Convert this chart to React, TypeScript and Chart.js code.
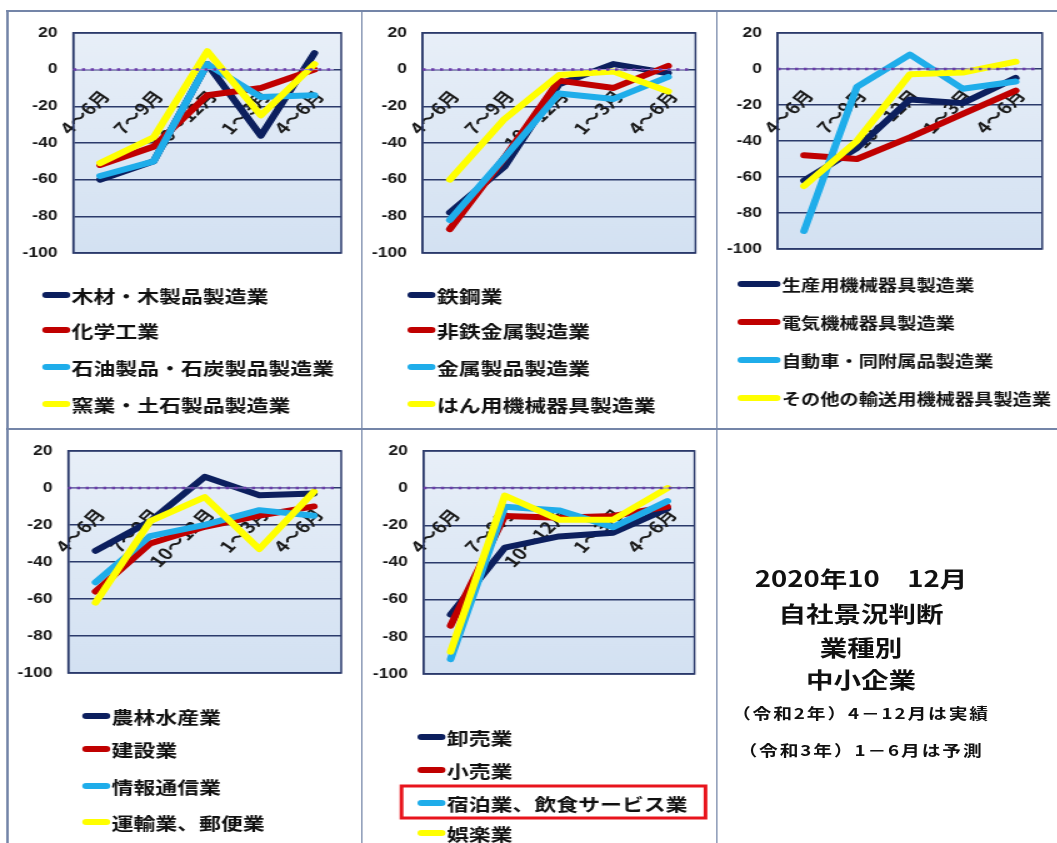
import React, { useEffect, useRef } from 'react';
import { Chart, registerables } from 'chart.js';

Chart.register(...registerables);

// The reference picture is stretched horizontally; everything is laid out
// unstretched and the whole page is scaled back with scaleX(S).
const S = 1.25;

const QUARTERS = ['4～6月', '7～9月', '10～12月', '1～3月', '4～6月'];
const Y_MIN = -100;
const Y_MAX = 20;
const Y_STEP = 20;

const COLORS = ['#0c1f5e', '#c00000', '#1fadea', '#ffff00'];

// Panel 1
const P1_LABELS = ['木材・木製品製造業', '化学工業', '石油製品・石炭製品製造業', '窯業・土石製品製造業'];
const P1_WOOD = [-60, -50, 3, -36, 9];
const P1_CHEMICAL = [-52, -42, -14, -10, 0];
const P1_PETROLEUM = [-58, -50, 3, -15, -14];
const P1_CERAMIC = [-51, -37, 10, -25, 3];

// Panel 2
const P2_LABELS = ['鉄鋼業', '非鉄金属製造業', '金属製品製造業', 'はん用機械器具製造業'];
const P2_IRON = [-78, -53, -8, 3, -2];
const P2_NONFERROUS = [-87, -48, -6, -10, 2];
const P2_METAL = [-82, -48, -13, -16, -4];
const P2_GENERAL = [-60, -27, -3, -1, -12];

// Panel 3
const P3_LABELS = ['生産用機械器具製造業', '電気機械器具製造業', '自動車・同附属品製造業', 'その他の輸送用機械器具製造業'];
const P3_PRODUCTION = [-62, -44, -17, -19, -5];
const P3_ELECTRIC = [-48, -50, -38, -25, -12];
const P3_AUTO = [-90, -10, 8, -11, -7];
const P3_OTHER_TRANSPORT = [-65, -40, -3, -2, 4];

// Panel 4
const P4_LABELS = ['農林水産業', '建設業', '情報通信業', '運輸業、郵便業'];
const P4_AGRI = [-34, -18, 6, -4, -3];
const P4_CONSTRUCTION = [-56, -30, -21, -15, -10];
const P4_INFO = [-51, -26, -20, -12, -15];
const P4_TRANSPORT = [-62, -18, -5, -33, -2];

// Panel 5
const P5_LABELS = ['卸売業', '小売業', '宿泊業、飲食サービス業', '娯楽業'];
const P5_WHOLESALE = [-68, -32, -26, -24, -11];
const P5_RETAIL = [-74, -15, -16, -15, -10];
const P5_HOTEL = [-92, -10, -12, -21, -7];
const P5_AMUSEMENT = [-88, -4, -17, -17, 0];

const TITLE_LINES = ['2020年10\u300012月', '自社景況判断', '業種別', '中小企業'];
const NOTE_LINES = ['（令和2年）4－12月は実績', '（令和3年）1－6月は予測'];

const GRID = '#2b3a6b';
const FRAME = '#7485a8';
const CJK = "'Noto Sans CJK JP', sans-serif";

type PanelCfg = {
  box: number[];
  plot: number[];
  legendX: number[];
  legendY: number[];
  legendFont: number;
  labels: string[];
  series: number[][];
  highlight?: number[];
};

// positions are in page (stretched) coordinates
const PANELS: PanelCfg[] = [
  { box: [8.5, 12, 361, 428], plot: [73, 31, 341, 253], legendX: [42, 70], legendY: [295, 330, 367, 404], legendFont: 17.5,
    labels: P1_LABELS, series: [P1_WOOD, P1_CHEMICAL, P1_PETROLEUM, P1_CERAMIC] },
  { box: [363, 12, 716, 428], plot: [423, 31, 696, 253], legendX: [408, 436], legendY: [295, 330, 367, 404], legendFont: 17.5,
    labels: P2_LABELS, series: [P2_IRON, P2_NONFERROUS, P2_METAL, P2_GENERAL] },
  { box: [718, 12, 1057, 428], plot: [778, 31, 1048, 249], legendX: [738, 781], legendY: [284, 322, 360, 398], legendFont: 15.4,
    labels: P3_LABELS, series: [P3_PRODUCTION, P3_ELECTRIC, P3_AUTO, P3_OTHER_TRANSPORT] },
  { box: [8.5, 430, 361, 843], plot: [68, 450, 341, 673], legendX: [82, 110], legendY: [716, 749, 786, 822], legendFont: 17.5,
    labels: P4_LABELS, series: [P4_AGRI, P4_CONSTRUCTION, P4_INFO, P4_TRANSPORT] },
  { box: [363, 430, 716, 843], plot: [424, 450, 695, 674], legendX: [418, 446], legendY: [737, 770, 803, 833], legendFont: 17.5,
    labels: P5_LABELS, series: [P5_WHOLESALE, P5_RETAIL, P5_HOTEL, P5_AMUSEMENT], highlight: [402, 786, 706, 818] },
];

function PanelChart({ p }: { p: PanelCfg }) {
  const ref = useRef<HTMLCanvasElement>(null);
  const [x0, y0, x1, y1] = p.box;
  const W = Math.round((x1 - x0) / S);
  const H = Math.round(y1 - y0);
  const X = (x: number) => (x - x0) / S;
  const Y = (y: number) => y - y0;

  useEffect(() => {
    const [px0, py0, px1, py1] = p.plot;
    const deco = {
      id: 'deco',
      beforeDraw(chart: any) {
        const { ctx, chartArea: a } = chart;
        const g = ctx.createLinearGradient(0, a.top, 0, a.bottom);
        g.addColorStop(0, '#e8eff8');
        g.addColorStop(1, '#d3e1f2');
        ctx.save();
        ctx.fillStyle = g;
        ctx.fillRect(a.left, a.top, a.right - a.left, a.bottom - a.top);
        ctx.restore();
      },
      beforeDatasetsDraw(chart: any) {
        const { ctx, chartArea: a } = chart;
        ctx.save();
        ctx.strokeStyle = GRID;
        ctx.lineWidth = 1.5;
        ctx.strokeRect(a.left, a.top, a.right - a.left, a.bottom - a.top);
        ctx.restore();
      },
      afterDatasetsDraw(chart: any) {
        const { ctx, chartArea: a } = chart;
        const y = chart.scales.y.getPixelForValue(0);
        ctx.save();
        ctx.strokeStyle = '#a58fd6';
        ctx.lineWidth = 1;
        ctx.beginPath();
        ctx.moveTo(a.left, y);
        ctx.lineTo(a.right - 6, y);
        ctx.stroke();
        ctx.strokeStyle = '#6a3ea8';
        ctx.lineWidth = 2.5;
        ctx.setLineDash([2.5, 4.5]);
        ctx.beginPath();
        ctx.moveTo(a.left, y);
        ctx.lineTo(a.right - 6, y);
        ctx.stroke();
        ctx.restore();
      },
      afterDraw(chart: any) {
        const { ctx } = chart;
        chart.data.datasets.forEach((ds: any, i: number) => {
          const y = Y(p.legendY[i]);
          ctx.save();
          ctx.strokeStyle = ds.borderColor;
          ctx.lineWidth = 6;
          ctx.lineCap = 'round';
          ctx.beginPath();
          ctx.moveTo(X(p.legendX[0]) + 3, y);
          ctx.lineTo(X(p.legendX[1]) - 3, y);
          ctx.stroke();
          ctx.fillStyle = '#111';
          ctx.font = `bold ${p.legendFont}px ${CJK}`;
          ctx.textBaseline = 'middle';
          ctx.textAlign = 'left';
          ctx.fillText(ds.label, X(p.legendX[1]) + 1, y + 1);
          ctx.restore();
        });
        if (p.highlight) {
          const [hx0, hy0, hx1, hy1] = p.highlight;
          ctx.save();
          ctx.strokeStyle = '#e8141c';
          ctx.lineWidth = 3;
          ctx.strokeRect(X(hx0), Y(hy0), X(hx1) - X(hx0), hy1 - hy0);
          ctx.restore();
        }
      },
    };

    const chart = new Chart(ref.current as HTMLCanvasElement, {
      type: 'line',
      data: {
        labels: QUARTERS,
        datasets: p.series.map((data, i) => ({
          label: p.labels[i],
          data,
          borderColor: COLORS[i],
          backgroundColor: COLORS[i],
          borderWidth: 6,
          pointRadius: 0,
          pointHoverRadius: 0,
          tension: 0,
          fill: false,
          order: 3 - i,
          borderJoinStyle: 'round',
          borderCapStyle: 'round',
        })),
      },
      options: {
        responsive: false,
        animation: false,
        events: [],
        layout: {
          padding: { left: 0, top: Y(py0), right: W - X(px1), bottom: H - Y(py1) },
        },
        scales: {
          y: {
            min: Y_MIN,
            max: Y_MAX,
            ticks: {
              stepSize: Y_STEP,
              padding: 12.5,
              color: '#1a1a1a',
              font: { family: "'Liberation Sans', sans-serif", size: 14, weight: 'bold' },
            },
            grid: { color: GRID, lineWidth: 1.5, drawTicks: false },
            border: { display: true, color: GRID, width: 1.5 },
            afterFit: (scale: any) => {
              scale.width = X(px0);
            },
          },
          x: {
            type: 'category',
            position: { y: 0 },
            offset: true,
            grid: { display: false, drawTicks: false },
            border: { display: false },
            ticks: {
              autoSkip: false,
              minRotation: 50,
              maxRotation: 50,
              padding: 17,
              labelOffset: 4,
              color: '#1a1a1a',
              font: { family: CJK, size: 16, weight: 'bold' },
            },
          },
        } as any,
        plugins: {
          legend: { display: false },
          tooltip: { enabled: false },
        },
      },
      plugins: [deco],
    } as any);
    return () => chart.destroy();
  }, []);

  return (
    <canvas
      ref={ref}
      width={W}
      height={H}
      style={{ position: 'absolute', left: x0 / S, top: y0, width: W, height: H }}
    />
  );
}

function Line({ x, y, w, h }: { x: number; y: number; w: number; h: number }) {
  return <div style={{ position: 'absolute', left: x / S, top: y, width: w / S, height: h, background: FRAME }} />;
}

export default function App() {
  const titleCenters = [577, 612, 646, 678];
  const noteCenters = [713, 750];
  const cx = 861 / S;
  return (
    <div
      style={{
        position: 'absolute',
        left: 0,
        top: 0,
        width: 1057 / S,
        height: 843,
        transform: `scaleX(${S})`,
        transformOrigin: '0 0',
        background: '#ffffff',
        overflow: 'hidden',
      }}
    >
      {PANELS.map((p, i) => (
        <PanelChart key={i} p={p} />
      ))}
      <Line x={6.5} y={10} w={1051} h={2} />
      <Line x={6.5} y={428} w={1051} h={2} />
      <Line x={6.5} y={10} w={2} h={833} />
      <Line x={361} y={10} w={2} h={833} />
      <Line x={716} y={10} w={2} h={833} />
      {TITLE_LINES.map((t, i) => (
        <div
          key={'t' + i}
          style={{
            position: 'absolute',
            left: cx - 150,
            width: 300,
            top: titleCenters[i] - 16,
            height: 32,
            lineHeight: '32px',
            textAlign: 'center',
            fontFamily: CJK,
            fontWeight: 700,
            fontSize: 22,
            color: '#111',
            whiteSpace: 'pre',
          }}
        >
          {t}
        </div>
      ))}
      {NOTE_LINES.map((t, i) => (
        <div
          key={'n' + i}
          style={{
            position: 'absolute',
            left: cx - 150,
            width: 300,
            top: noteCenters[i] - 12,
            height: 24,
            lineHeight: '24px',
            textAlign: 'center',
            fontFamily: CJK,
            fontWeight: 700,
            fontSize: 15,
            letterSpacing: 1.5,
            color: '#111',
            whiteSpace: 'pre',
          }}
        >
          {t}
        </div>
      ))}
    </div>
  );
}
